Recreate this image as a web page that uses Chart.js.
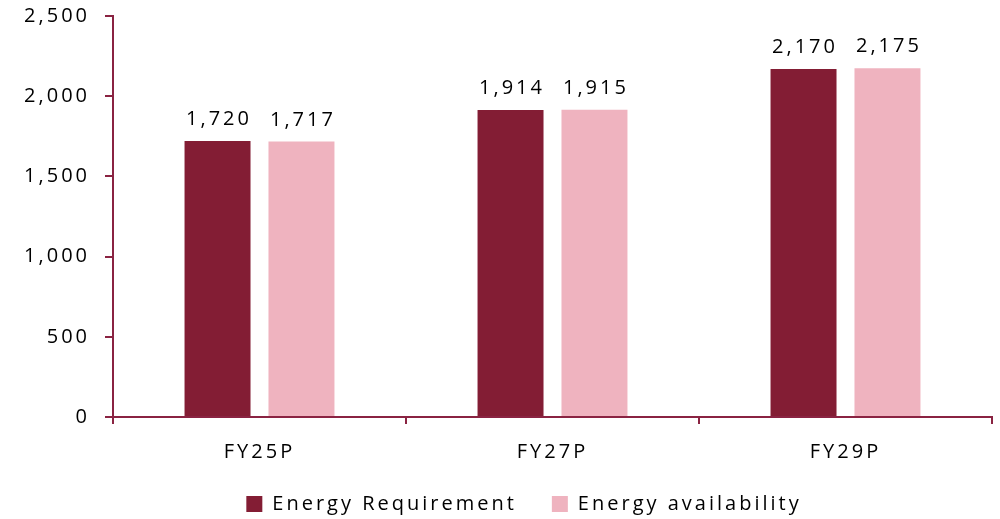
<!DOCTYPE html>
<html>
<head>
<meta charset="utf-8">
<script src="https://cdn.jsdelivr.net/npm/chart.js@4.4.1/dist/chart.umd.min.js"></script>
<style>
  html, body { margin: 0; padding: 0; background: #ffffff; }
  #wrap { width: 1000px; height: 519px; }
</style>
</head>
<body>
<div id="wrap"><canvas id="c" width="1000" height="519"></canvas></div>
<script>
const categories = ['FY25P', 'FY27P', 'FY29P'];
const requirement = [1720, 1914, 2170];
const availability = [1717, 1915, 2175];
const yTicks = [0, 500, 1000, 1500, 2000, 2500];

const AXIS = '#8a2342';
const INK = '#000000';
const FONT = "'Open Sans', sans-serif";
const TRACK = 3;            // letter spacing in px
const fmt = v => v.toLocaleString('en-US');

// Wider tracking for all canvas text; legend band tuned after layout
const spacing = {
  id: 'spacing',
  afterInit(chart) {
    const lg = chart.legend;
    if (lg) {
      const fit = lg.fit.bind(lg);
      lg.fit = function () { fit(); this.height = 42; };
    }
  },
  beforeUpdate(chart) { chart.ctx.letterSpacing = TRACK + 'px'; },
  beforeLayout(chart) { chart.ctx.letterSpacing = TRACK + 'px'; },
  afterLayout(chart) {
    const lg = chart.legend;
    if (lg) {
      lg.top -= 18;
      lg.left += 28; lg.right += 28;
    }
  },
  beforeDraw(chart) { chart.ctx.letterSpacing = TRACK + 'px'; }
};

// Value labels above each bar
const valueLabels = {
  id: 'valueLabels',
  afterDatasetsDraw(chart) {
    const ctx = chart.ctx;
    ctx.save();
    ctx.letterSpacing = TRACK + 'px';
    ctx.font = '20px ' + FONT;
    ctx.fillStyle = INK;
    ctx.textAlign = 'center';
    ctx.textBaseline = 'alphabetic';
    chart.data.datasets.forEach((ds, i) => {
      chart.getDatasetMeta(i).data.forEach((bar, j) => {
        ctx.fillText(fmt(ds.data[j]), bar.x + TRACK / 2, bar.y - 16);
      });
    });
    ctx.restore();
  }
};

new Chart(document.getElementById('c'), {
  type: 'bar',
  data: {
    labels: categories,
    datasets: [
      { label: 'Energy Requirement', data: requirement, backgroundColor: '#831d34' },
      { label: 'Energy availability', data: availability, backgroundColor: '#efb3bf' }
    ]
  },
  plugins: [spacing, valueLabels],
  options: {
    responsive: false,
    animation: false,
    devicePixelRatio: 1,
    categoryPercentage: 0.573,
    barPercentage: 0.786,
    layout: { autoPadding: false, padding: { top: 16, right: 8, left: 0, bottom: 0 } },
    plugins: {
      legend: {
        position: 'bottom',
        labels: {
          font: { family: FONT, size: 20 },
          color: INK,
          boxWidth: 16,
          boxHeight: 16,
          padding: 35
        }
      },
      tooltip: { enabled: false }
    },
    scales: {
      y: {
        min: 0,
        max: 2500,
        afterBuildTicks(scale) { scale.ticks = yTicks.map(v => ({ value: v })); },
        afterFit(scale) {
          scale.width = 113;
          scale.paddingTop = 0;
          scale.paddingBottom = 0;
        },
        ticks: {
          font: { family: FONT, size: 20 },
          color: INK,
          padding: 15,
          callback: v => fmt(v)
        },
        border: { color: AXIS, width: 2 },
        grid: { drawOnChartArea: false, drawTicks: true, tickLength: 8, color: AXIS, lineWidth: 2 }
      },
      x: {
        afterFit(scale) { scale.height = 60; },
        ticks: {
          font: { family: FONT, size: 20 },
          color: INK,
          padding: 16
        },
        border: { color: AXIS, width: 2 },
        grid: { offset: true, drawOnChartArea: false, drawTicks: true, tickLength: 7, color: AXIS, lineWidth: 2 }
      }
    }
  }
});
</script>
</body>
</html>
